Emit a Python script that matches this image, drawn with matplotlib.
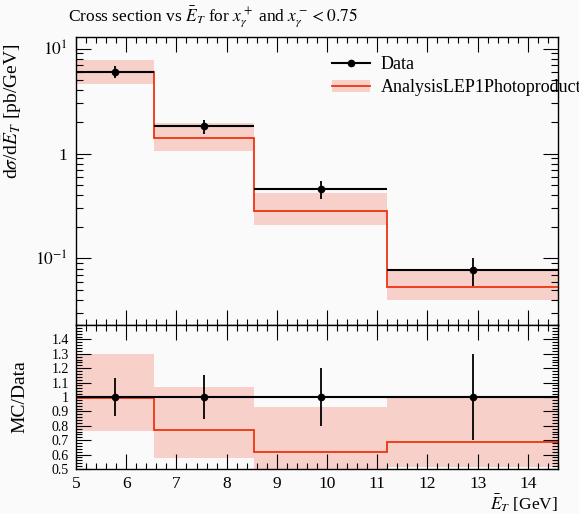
import matplotlib
matplotlib.use("Agg")
import matplotlib.pyplot as plt
import numpy as np
from matplotlib.ticker import FixedLocator, MultipleLocator, LogLocator, FuncFormatter, NullFormatter
from matplotlib.patches import Patch
from matplotlib.lines import Line2D

# ---- data ----
edges = [5.0, 6.55, 8.55, 11.2, 14.6]
data_vals = [6.0, 1.82, 0.457, 0.0774]
data_err = [0.78, 0.273, 0.091, 0.0232]
mc_vals = [5.94, 1.409, 0.2825, 0.053]
mc_lo = [4.58, 1.05, 0.21, 0.040]
mc_hi = [7.8, 1.95, 0.425, 0.0769]

title = r"Cross section vs $\bar{E}_T$ for $x_\gamma^+$ and $x_\gamma^- < 0.75$"
ylabel_main = r"d$\sigma$/d$\bar{E}_T$ [pb/GeV]"
ylabel_ratio = "MC/Data"
xlabel = r"$\bar{E}_T$ [GeV]"
label_data = "Data"
label_mc = "AnalysisLEP1Photoproduction"

ratio_ticks = [0.5, 0.6, 0.7, 0.8, 0.9, 1.0, 1.1, 1.2, 1.3, 1.4]
x_ticks = [5, 6, 7, 8, 9, 10, 11, 12, 13, 14]

plt.rcParams['font.family'] = ['Liberation Serif', 'DejaVu Serif']
plt.rcParams['mathtext.fontset'] = 'stix'
plt.rcParams['font.size'] = 12.5

bg = '#fafafa'
red = '#ee3311'
band = '#f7d0ca'

W, H = 579, 514
fig = plt.figure(figsize=(W / 100, H / 100), dpi=100, facecolor=bg)
L, R = 76 / W, 558 / W
ax = fig.add_axes([L, 1 - 325 / H, R - L, (325 - 37) / H], facecolor=bg)
rax = fig.add_axes([L, 1 - 469 / H, R - L, (469 - 325) / H], facecolor=bg, sharex=ax)

edges_a = np.array(edges)
dv = np.array(data_vals)
de = np.array(data_err)
mv = np.array(mc_vals)
lo = np.array(mc_lo)
hi = np.array(mc_hi)
centers = 0.5 * (edges_a[:-1] + edges_a[1:])

# main
ax.stairs(hi, edges_a, baseline=lo, fill=True, color=band, lw=0)
ax.stairs(mv, edges_a, baseline=None, color=red, lw=1.3)
ax.hlines(dv, edges_a[:-1], edges_a[1:], color='black', lw=1.5)
ax.errorbar(centers, dv, yerr=de, fmt='o', color='black', ms=4.5, elinewidth=1.3, capsize=0)
ax.set_yscale('log')
ax.set_xlim(edges_a[0], edges_a[-1])
ax.set_ylim(0.0232, 12.9)

# ratio
rax.stairs(hi / dv, edges_a, baseline=lo / dv, fill=True, color=band, lw=0)
rax.stairs(mv / dv, edges_a, baseline=None, color=red, lw=1.3)
rax.hlines(dv / dv, edges_a[:-1], edges_a[1:], color='black', lw=1.5)
rax.errorbar(centers, dv / dv, yerr=de / dv, fmt='o', color='black', ms=4.5, elinewidth=1.3, capsize=0)
rax.set_ylim(0.5, 1.5)

def fmt_main(v, pos):
    if abs(v - 10) < 1e-9:
        return r"$10^1$"
    if abs(v - 1) < 1e-9:
        return "1"
    if abs(v - 0.1) < 1e-9:
        return r"$10^{-1}$"
    return ""

ax.yaxis.set_major_locator(FixedLocator([0.1, 1, 10]))
ax.yaxis.set_major_formatter(FuncFormatter(fmt_main))
ax.yaxis.set_minor_locator(LogLocator(base=10, subs=np.arange(2, 10), numticks=20))
ax.yaxis.set_minor_formatter(NullFormatter())

for a in (ax, rax):
    a.xaxis.set_major_locator(FixedLocator(x_ticks))
    a.xaxis.set_minor_locator(MultipleLocator(0.2))
    a.tick_params(which='both', direction='in', top=True, right=True, width=0.8)
    a.tick_params(which='major', length=11, pad=6)
    a.tick_params(which='minor', length=4)
    for s in a.spines.values():
        s.set_linewidth(1.0)
ax.tick_params(axis='y', which='minor', length=5)
ax.tick_params(labelbottom=False)
rax.tick_params(axis='x', which='major', pad=5)
rax.tick_params(axis='y', which='major', labelsize=10, pad=5)

rax.yaxis.set_major_locator(FixedLocator(ratio_ticks))
rax.yaxis.set_minor_locator(MultipleLocator(0.02))
rax.yaxis.set_major_formatter(FuncFormatter(lambda v, p: f"{v:g}"))
rax.set_xticklabels([str(t) for t in x_ticks])

ax.set_ylabel(ylabel_main, loc='top', fontsize=14)
rax.set_ylabel(ylabel_ratio, fontsize=14)
rax.set_xlabel(xlabel, loc='right', fontsize=12.5)
ax.yaxis.set_label_coords((24 - 76) / 482, 0.979)
rax.yaxis.set_label_coords((28 - 76) / 482, 0.5)
rax.xaxis.set_label_coords(1.0, -0.163)
fig.text(68 / W, 1 - 21 / H, title, fontsize=12.5, ha='left', va='baseline')

# legend
h_data = Line2D([], [], color='black', marker='o', ms=4.5, lw=1.5)
h_mc = (Patch(facecolor=band, edgecolor='none'), Line2D([], [], color=red, lw=1.3))
fig.legend([h_data, h_mc], [label_data, label_mc], loc='upper left',
           bbox_to_anchor=(332 / W, 1 - 56 / H), frameon=False, fontsize=13,
           handlelength=2.1, handletextpad=0.6, labelspacing=0.35, borderpad=0,
           borderaxespad=0)

fig.savefig('out.png', dpi=100, facecolor=bg)
